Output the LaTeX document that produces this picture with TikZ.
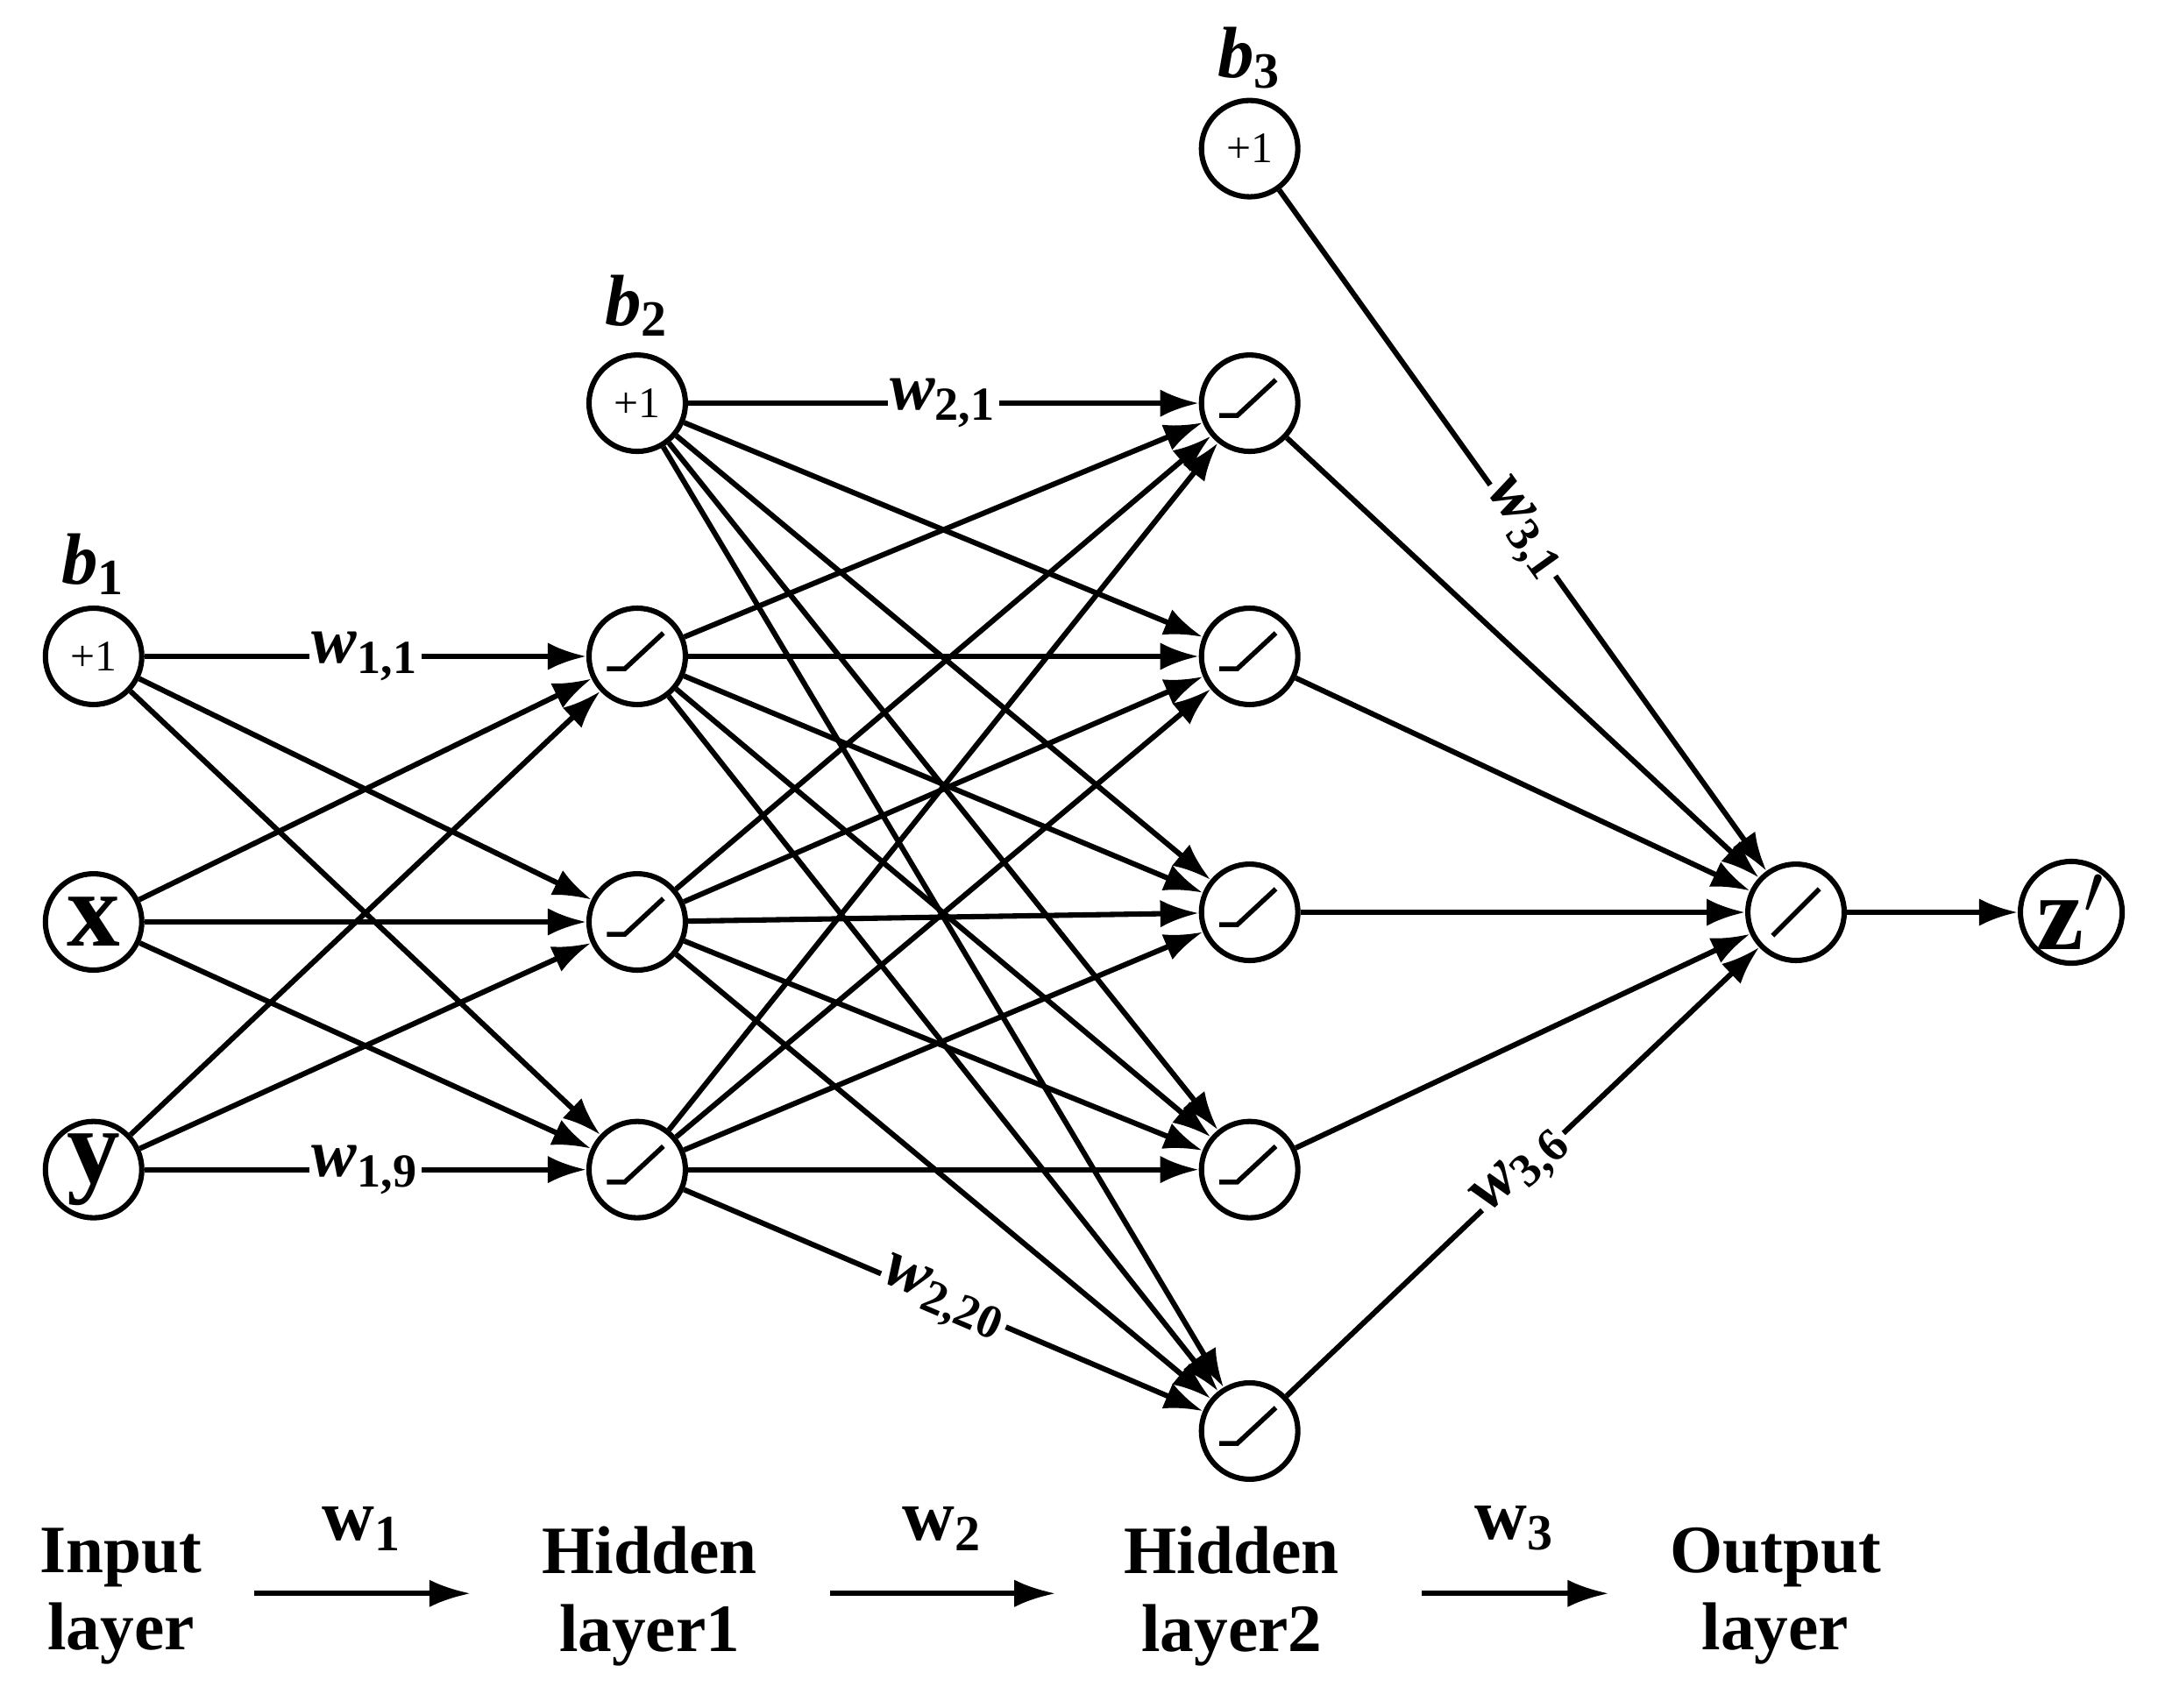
\documentclass[tikz,border=0pt]{standalone}
\usepackage{fontspec}
\setmainfont{Liberation Serif}
\usetikzlibrary{arrows.meta}
\newcommand{\sbs}[1]{\textsubscript{\upshape #1}}
\begin{document}
\begin{tikzpicture}[x=0.01cm,y=-0.01cm,
  neu/.style={circle,draw,line width=1.1pt,minimum size=0.7cm,inner sep=0pt},
  con/.style={line width=1.1pt,-{Latex[length=2.8mm,width=2mm]}},
  wl/.style={fill=white,inner sep=0.5pt,font=\bfseries\itshape\fontsize{14}{14}\selectfont},
  bl/.style={font=\bfseries\itshape\fontsize{15}{15}\selectfont},
  ll/.style={font=\bfseries\fontsize{14}{16}\selectfont,align=center},
  one/.style={font=\fontsize{9}{9}\selectfont}]
\useasboundingbox (0,0) rectangle (1568,1241);
% input
\node[neu,one] (b1) at (68,477) {+1};
\node[neu,font=\bfseries\fontsize{22}{22}\selectfont] (x) at (68,670) {x};
\node[neu,font=\bfseries\fontsize{22}{22}\selectfont] (y) at (68,850) {y};
% hidden1
\node[neu,one] (b2) at (463,293) {+1};
\foreach \i/\yy in {1/477,2/670,3/850}{
  \node[neu] (h\i) at (463,\yy) {};
  \draw[line width=1pt] ([shift={(-22,9)}]h\i.center) -- ++(13,0) -- ++(28,-26);
}
% hidden2
\node[neu,one] (b3) at (908,108) {+1};
\foreach \i/\yy in {1/293,2/477,3/663,4/850,5/1040}{
  \node[neu] (g\i) at (908,\yy) {};
  \draw[line width=1pt] ([shift={(-22,9)}]g\i.center) -- ++(13,0) -- ++(28,-26);
}
% output
\node[neu] (o) at (1305,663) {};
\draw[line width=1pt] ([shift={(-17,17)}]o.center) -- ++(34,-34);
\node[neu,font=\bfseries\fontsize{22}{22}\selectfont] (z) at (1505,663) {z$'$};
% bias labels
\node[bl] at (68,410) {b\sbs{1}};
\node[bl] at (463,222) {b\sbs{2}};
\node[bl] at (908,42) {b\sbs{3}};
% edges
\foreach \s in {b1,x,y}\foreach \t in {h1,h2,h3}\draw[con] (\s) -- (\t);
\foreach \s in {b2,h1,h2,h3}\foreach \t in {g1,g2,g3,g4,g5}\draw[con] (\s) -- (\t);
\foreach \s in {b3,g1,g2,g3,g4,g5}\draw[con] (\s) -- (o);
\draw[con] (o) -- (z);
% weight labels
\path (b1) -- node[wl]{w\sbs{1,1}} (h1);
\path (y) -- node[wl]{w\sbs{1,9}} (h3);
\path (b2) -- node[wl]{w\sbs{2,1}} (g1);
\path (h3) -- node[wl,sloped,pos=0.5]{w\sbs{2,20}} (g5);
\path (b3) -- node[wl,sloped,pos=0.5]{w\sbs{3,1}} (o);
\path (g5) -- node[wl,sloped,pos=0.5]{w\sbs{3,6}} (o);
% bottom legend
\node[ll] (l1) at (88,1160) {Input\\layer};
\node[ll] (l2) at (472,1160) {Hidden\\layer1};
\node[ll] (l3) at (895,1160) {Hidden\\layer2};
\node[ll] (l4) at (1290,1160) {Output\\layer};
\coordinate (a1) at (185,1158); \coordinate (a2) at (342,1158);
\coordinate (a3) at (603,1158); \coordinate (a4) at (767,1158);
\coordinate (a5) at (1033,1158); \coordinate (a6) at (1169,1158);
\draw[line width=1.1pt,-{Latex[length=3mm,width=2mm]}] (a1) -- node[above=5pt,font=\bfseries\fontsize{15}{15}\selectfont]{w\textsubscript{1}} (a2);
\draw[line width=1.1pt,-{Latex[length=3mm,width=2mm]}] (a3) -- node[above=5pt,font=\bfseries\fontsize{15}{15}\selectfont]{w\textsubscript{2}} (a4);
\draw[line width=1.1pt,-{Latex[length=3mm,width=2mm]}] (a5) -- node[above=5pt,font=\bfseries\fontsize{15}{15}\selectfont]{w\textsubscript{3}} (a6);
\end{tikzpicture}
\end{document}
